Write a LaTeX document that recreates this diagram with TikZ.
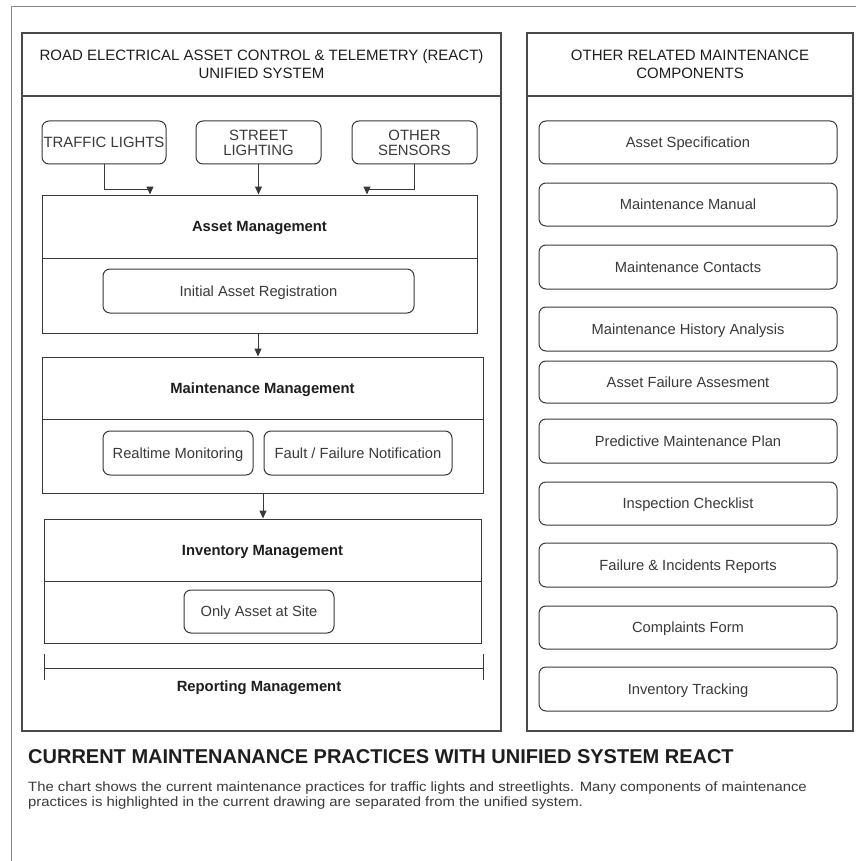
\documentclass[tikz,border=0pt]{standalone}
\usepackage{fontspec}
\setmainfont{Liberation Sans}
\newfontfamily\widefont[FakeStretch=1.1]{Liberation Sans}
\usetikzlibrary{arrows.meta}
\definecolor{linec}{HTML}{383838}
\definecolor{panelc}{HTML}{4A4A4A}
\definecolor{framec}{HTML}{8A8A8A}
\definecolor{txtc}{HTML}{3A3A3A}
\definecolor{darktxt}{HTML}{1E1E1E}
\newcommand{\mkbox}[7]{\node[#6, minimum width={#4-#2}, minimum height={#5-#3}] (#1) at ({(#2+#4)/2},{(#3+#5)/2}) {#7};}
\begin{document}
\begin{tikzpicture}[x=1pt,y=-1pt,
  rbox/.style={draw=linec, line width=1pt, rounded corners=7pt, inner sep=0pt, text=txtc},
  box/.style={rbox, font=\fontsize{14.7}{15}\selectfont, text height=10.5pt, text depth=0pt},
  capbox/.style={rbox, font=\fontsize{14.9}{15}\selectfont, align=center},
  sect/.style={draw=linec, line width=1pt, inner sep=0pt},
  secttitle/.style={sect, text=darktxt, font=\fontsize{14.8}{16}\selectfont\bfseries, text height=10.6pt, text depth=0pt},
  panel/.style={draw=panelc, line width=1.4pt, inner sep=0pt},
  panelhead/.style={panel, text=darktxt, font=\fontsize{15}{18}\selectfont, align=center},
  arr/.style={draw=linec, line width=1pt, -{Triangle[length=8pt,width=7pt]}},
  plain/.style={inner sep=0pt, text=txtc},
]
\useasboundingbox (0,0) rectangle (856,861);
\fill[white] (0,0) rectangle (856,861);
% outer frame
\coordinate (ftl) at (11,7);
\coordinate (ftr) at (856,7);
\coordinate (fbl) at (11,861);
\draw[framec, line width=1pt] (ftr) -- (ftl) -- (fbl);

% panels
\mkbox{lp}{22}{33}{501}{731}{panel}{}
\mkbox{lph}{22}{33}{501}{96}{panelhead}{ROAD ELECTRICAL ASSET CONTROL \& TELEMETRY (REACT)\\UNIFIED SYSTEM}
\mkbox{rp}{527}{33}{853}{731}{panel}{}
\mkbox{rph}{527}{33}{853}{96}{panelhead}{OTHER RELATED MAINTENANCE\\COMPONENTS}

% sources
\mkbox{tl}{42}{121}{166}{164}{capbox}{TRAFFIC LIGHTS}
\mkbox{sl}{196}{121}{321}{164}{capbox}{STREET\\LIGHTING}
\mkbox{os}{352}{121}{477}{164}{capbox}{OTHER\\SENSORS}

% asset management
\mkbox{am}{42}{195}{477}{333}{sect}{}
\mkbox{amt}{42}{195}{477}{258}{secttitle}{Asset Management}
\mkbox{iar}{103}{269}{414}{313}{box}{Initial Asset Registration}

% maintenance management
\mkbox{mm}{42}{357}{483}{493}{sect}{}
\mkbox{mmt}{42}{357}{483}{419}{secttitle}{Maintenance Management}
\mkbox{rtm}{103}{431}{253}{475}{box}{Realtime Monitoring}
\mkbox{ffn}{264}{431}{452}{475}{box}{Fault / Failure Notification}

% inventory management
\mkbox{im}{44}{519}{481}{643}{sect}{}
\mkbox{imt}{44}{519}{481}{581}{secttitle}{Inventory Management}
\mkbox{oas}{184}{590}{334}{633}{box}{Only Asset at Site}

% reporting management
\coordinate (rl) at (44,668);
\coordinate (rr) at (483,668);
\draw[linec, line width=1pt] (rl) -- (rr);
\draw[linec, line width=1pt] ([yshift=-12pt]rl) -- ([yshift=14pt]rl);
\draw[linec, line width=1pt] ([yshift=-12pt]rr) -- ([yshift=14pt]rr);
\node[plain, text=darktxt, font=\fontsize{14.8}{16}\selectfont\bfseries, text height=10.6pt, text depth=0pt] (rep) at (259,686) {Reporting Management};

% connectors
\coordinate (ja) at (150,189);
\coordinate (jb) at (367,189);
\draw[arr] (tl.south) |- (ja) -- (am.north -| ja);
\draw[arr] (sl.south) -- (am.north -| sl.south);
\draw[arr] (os.south) |- (jb) -- (am.north -| jb);
\coordinate (jc) at (258,0);
\draw[arr] (am.south -| jc) -- (mm.north -| jc);
\coordinate (jd) at (263,0);
\draw[arr] (mm.south -| jd) -- (im.north -| jd);

% right column
\mkbox{r1}{539}{121}{837}{164}{box}{Asset Specification}
\mkbox{r2}{539}{183}{837}{226}{box}{Maintenance Manual}
\mkbox{r3}{539}{245}{837}{289}{box}{Maintenance Contacts}
\mkbox{r4}{539}{307}{837}{351}{box}{Maintenance History Analysis}
\mkbox{r5}{539}{361}{837}{403}{box}{Asset Failure Assesment}
\mkbox{r6}{539}{419}{837}{463}{box}{Predictive Maintenance Plan}
\mkbox{r7}{539}{482}{837}{525}{box}{Inspection Checklist}
\mkbox{r8}{539}{543}{837}{587}{box}{Failure \& Incidents Reports}
\mkbox{r9}{539}{606}{837}{649}{box}{Complaints Form}
\mkbox{r10}{539}{667}{837}{711}{box}{Inventory Tracking}

% caption
\node[plain, anchor=west, text=darktxt, font=\fontsize{20}{22}\selectfont\bfseries] (ttl) at (28,757) {CURRENT MAINTENANANCE PRACTICES WITH UNIFIED SYSTEM REACT};
\node[plain, anchor=north west, align=left, font=\widefont\fontsize{13.5}{15}\selectfont] (desc) at (28,782) {The chart shows the current maintenance practices for traffic lights and streetlights. Many components of maintenance\\practices is highlighted in the current drawing are separated from the unified system.};
\end{tikzpicture}
\end{document}
